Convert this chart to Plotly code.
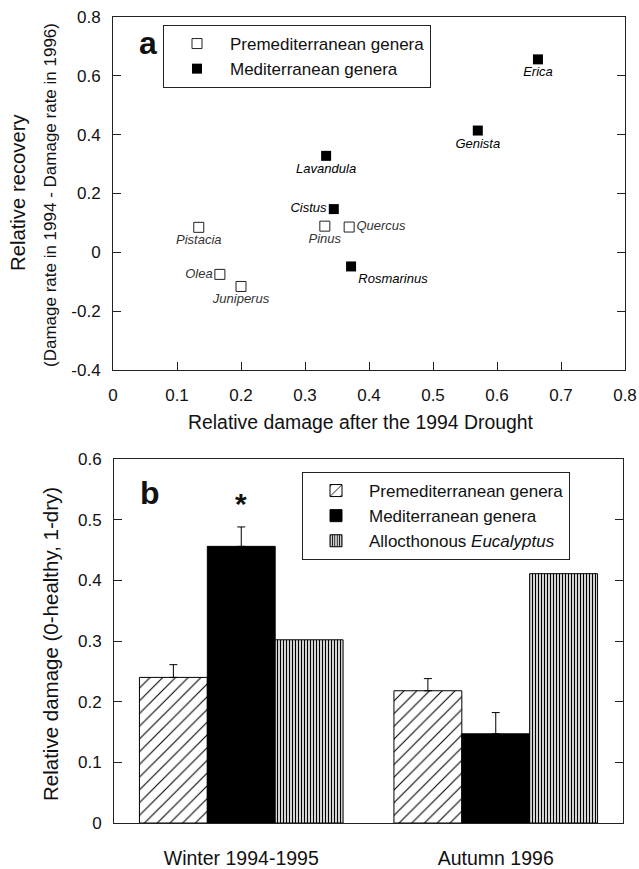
import plotly.graph_objects as go

# ---------------- Data: panel a ----------------
pre_genera = ["Pistacia", "Olea", "Juniperus", "Pinus", "Quercus"]
pre_damage = [0.134, 0.167, 0.200, 0.331, 0.369]
pre_recovery = [0.085, -0.075, -0.116, 0.089, 0.086]

med_genera = ["Erica", "Genista", "Lavandula", "Cistus", "Rosmarinus"]
med_damage = [0.664, 0.570, 0.333, 0.345, 0.372]
med_recovery = [0.656, 0.414, 0.328, 0.147, -0.048]

a_xticks = [0, 0.1, 0.2, 0.3, 0.4, 0.5, 0.6, 0.7, 0.8]
a_xticklabels = ["0", "0.1", "0.2", "0.3", "0.4", "0.5", "0.6", "0.7", "0.8"]
a_yticks = [-0.4, -0.2, 0, 0.2, 0.4, 0.6, 0.8]
a_yticklabels = ["-0.4", "-0.2", "0", "0.2", "0.4", "0.6", "0.8"]

# ---------------- Data: panel b ----------------
periods = ["Winter 1994-1995", "Autumn 1996"]
b_pre = [0.240, 0.218]
b_pre_err = [0.021, 0.020]
b_med = [0.456, 0.147]
b_med_err = [0.032, 0.035]
b_euc = [0.302, 0.411]

b_yticks = [0, 0.1, 0.2, 0.3, 0.4, 0.5, 0.6]
b_yticklabels = ["0", "0.1", "0.2", "0.3", "0.4", "0.5", "0.6"]

# ---------------- styles ----------------
FONT = "Liberation Sans, Arial, Helvetica, sans-serif"
pre_textpos = ["bottom center", "middle left", "bottom center", "bottom center", "middle right"]
med_textpos = ["bottom center", "bottom center", "bottom center", "middle left", "bottom right"]

W, H = 639, 869
def px_x(p): return p / W
def px_y(p): return 1 - p / H

fig = go.Figure()

fig.add_trace(go.Scatter(
    x=pre_damage, y=pre_recovery, mode="markers+text",
    text=[f"<i>{g}</i>" for g in pre_genera], textposition=pre_textpos,
    textfont=dict(family=FONT, size=13, color="#333"),
    marker=dict(symbol="square-open", size=10, color="#222", line=dict(width=1)),
    name="Premediterranean genera", legend="legend",
    xaxis="x", yaxis="y", cliponaxis=False,
))
fig.add_trace(go.Scatter(
    x=med_damage, y=med_recovery, mode="markers+text",
    text=[f"<i>{g}</i>" for g in med_genera], textposition=med_textpos,
    textfont=dict(family=FONT, size=13, color="black"),
    marker=dict(symbol="square", size=10, color="black"),
    name="Mediterranean genera", legend="legend",
    xaxis="x", yaxis="y", cliponaxis=False,
))

# panel b bars
fig.add_trace(go.Bar(
    x=periods, y=b_pre, name="Premediterranean genera", legend="legend2",
    marker=dict(color="white", line=dict(color="black", width=1),
                pattern=dict(shape="/", fgcolor="black", bgcolor="white", size=9, solidity=0.12)),
    error_y=dict(type="data", array=b_pre_err, arrayminus=[0, 0], symmetric=False,
                 color="black", thickness=1, width=4),
    xaxis="x2", yaxis="y2",
))
fig.add_trace(go.Bar(
    x=periods, y=b_med, name="Mediterranean genera", legend="legend2",
    marker=dict(color="black", line=dict(color="black", width=1)),
    error_y=dict(type="data", array=b_med_err, arrayminus=[0, 0], symmetric=False,
                 color="black", thickness=1, width=4),
    xaxis="x2", yaxis="y2",
))
fig.add_trace(go.Bar(
    x=periods, y=b_euc, name="Allocthonous <i>Eucalyptus</i>", legend="legend2",
    marker=dict(color="white", line=dict(color="black", width=1),
                pattern=dict(shape="|", fgcolor="black", bgcolor="white", size=3, solidity=0.45)),
    xaxis="x2", yaxis="y2",
))

axis_common = dict(showline=True, linecolor="#222", linewidth=1, showgrid=False, zeroline=False,
                   automargin=False)
tick17 = dict(family=FONT, size=17, color="#111")

fig.update_layout(
    template="none",
    width=W, height=H, margin=dict(l=0, r=0, t=0, b=0, pad=0, autoexpand=False),
    paper_bgcolor="white", plot_bgcolor="white",
    font=dict(family=FONT, color="#111"),
    showlegend=True,
    barmode="group", bargap=0.2, bargroupgap=0,
    xaxis=dict(domain=[px_x(113), px_x(625)], anchor="y", range=[0, 0.8],
               tickvals=a_xticks, ticktext=a_xticklabels, ticks="inside", ticklen=8,
               tickcolor="#222", mirror=True, ticklabelstandoff=10, tickfont=tick17,
               **axis_common),
    yaxis=dict(domain=[px_y(370), px_y(17)], anchor="x", range=[-0.4, 0.8],
               tickvals=a_yticks, ticktext=a_yticklabels, ticks="inside", ticklen=8,
               tickcolor="#222", mirror="ticks", ticklabelstandoff=8, tickfont=tick17,
               **axis_common),
    xaxis2=dict(domain=[px_x(114), px_x(623)], anchor="y2", type="category", range=[-0.5, 1.5],
                ticks="", mirror=True, ticklabelstandoff=18,
                tickfont=dict(family=FONT, size=19.5, color="#111"), **axis_common),
    yaxis2=dict(domain=[px_y(823), px_y(459)], anchor="x2", range=[0, 0.6],
                tickvals=b_yticks, ticktext=b_yticklabels, ticks="inside", ticklen=8,
                tickcolor="#222", mirror="ticks", ticklabelstandoff=8, tickfont=tick17,
                **axis_common),
    legend=dict(x=px_x(163), y=px_y(25), xanchor="left", yanchor="top",
                bordercolor="#222", borderwidth=1, bgcolor="white",
                font=dict(family=FONT, size=17, color="#111"), itemwidth=56,
                tracegroupgap=0),
    legend2=dict(x=px_x(302), y=px_y(472), xanchor="left", yanchor="top",
                 bordercolor="#222", borderwidth=1, bgcolor="white",
                 font=dict(family=FONT, size=17, color="#111"), itemwidth=56,
                 tracegroupgap=0),
)

annots = [
    dict(text="<b>a</b>", x=px_x(148), y=px_y(43), font=dict(size=32)),
    dict(text="<b>b</b>", x=px_x(150), y=px_y(493), font=dict(size=32)),
    dict(text="Relative recovery", x=px_x(18), y=px_y(192), textangle=-90, font=dict(size=20.3)),
    dict(text="(Damage rate in 1994 - Damage rate in 1996)", x=px_x(50), y=px_y(195),
         textangle=-90, font=dict(size=17)),
    dict(text="Relative damage after the 1994 Drought", x=px_x(361), y=px_y(422),
         font=dict(size=19.4)),
    dict(text="Relative damage (0-healthy, 1-dry)", x=px_x(50), y=px_y(644),
         textangle=-90, font=dict(size=20.5)),
    dict(text="<b>*</b>", x=px_x(241), y=px_y(503), font=dict(size=30)),
]
for a in annots:
    a.setdefault("font", {})
    a["font"].setdefault("family", FONT)
    a["font"].setdefault("color", "#111")
    fig.add_annotation(xref="paper", yref="paper", showarrow=False,
                       xanchor="center", yanchor="middle", **a)

fig.write_html(
    "out.html",
    config={"displayModeBar": False},
    post_script="document.body.style.margin='0';document.body.style.overflow='hidden';",
)
